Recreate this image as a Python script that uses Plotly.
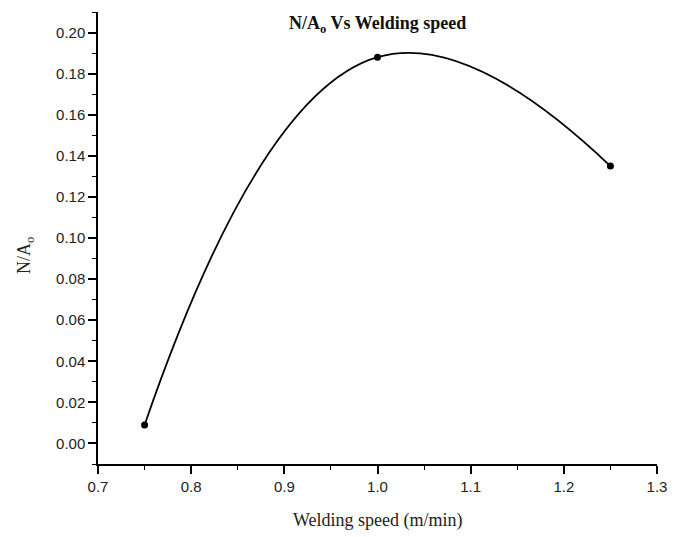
import plotly.graph_objects as go

welding_speed = [0.75, 1.0, 1.25]
n_over_ao = [0.009, 0.188, 0.135]

x_tick_vals = [0.7, 0.8, 0.9, 1.0, 1.1, 1.2, 1.3]
x_tick_text = ["0.7", "0.8", "0.9", "1.0", "1.1", "1.2", "1.3"]
y_tick_vals = [0.00, 0.02, 0.04, 0.06, 0.08, 0.10, 0.12, 0.14, 0.16, 0.18, 0.20]
y_tick_text = ["0.00", "0.02", "0.04", "0.06", "0.08", "0.10", "0.12", "0.14", "0.16", "0.18", "0.20"]

fig = go.Figure()
fig.add_trace(go.Scatter(
    x=welding_speed, y=n_over_ao,
    mode="lines+markers",
    line=dict(color="black", width=1.8, shape="spline", smoothing=1.3),
    marker=dict(color="black", size=7),
    showlegend=False,
))

tickfont = dict(family="Liberation Sans, Arial, sans-serif", size=15, color="#222")
titlefont = dict(family="Liberation Serif, Times New Roman, serif", size=18, color="#222")

# page body has an 8px margin, so the figure is placed 8px in from the window edge
W, H = 682, 529
L, R, T, B = 90, 33, 4, 73
PW, PH = W - L - R, H - T - B

fig.update_layout(
    width=W, height=H,
    margin=dict(l=L, r=R, t=T, b=B),
    paper_bgcolor="white", plot_bgcolor="white",
    xaxis=dict(
        range=[0.7, 1.3], tickvals=x_tick_vals, ticktext=x_tick_text,
        showgrid=False, zeroline=False,
        showline=True, linecolor="black", linewidth=1.5,
        ticks="outside", ticklen=8, tickwidth=1.5, tickcolor="black",
        tickfont=tickfont,
        minor=dict(dtick=0.05, tick0=0.7, ticks="outside", ticklen=4, tickwidth=1.2, tickcolor="black", showgrid=False),
    ),
    yaxis=dict(
        range=[-0.01, 0.21], tickvals=y_tick_vals, ticktext=y_tick_text,
        showgrid=False, zeroline=False,
        showline=True, linecolor="black", linewidth=1.5,
        ticks="outside", ticklen=8, tickwidth=1.5, tickcolor="black",
        tickfont=tickfont,
        minor=dict(dtick=0.01, tick0=0, ticks="outside", ticklen=4, tickwidth=1.2, tickcolor="black", showgrid=False),
    ),
    annotations=[
        dict(text="<b>N/A<sub>o</sub> Vs Welding speed</b>",
             font=dict(family="Liberation Serif, Times New Roman, serif", size=18, color="#111"),
             showarrow=False, xref="paper", yref="paper", x=0.5, y=1 + 1 / PH,
             xanchor="center", yanchor="top"),
        dict(text="Welding speed (m/min)", font=titlefont, showarrow=False,
             xref="paper", yref="paper", x=0.5, y=-56 / PH,
             xanchor="center", yanchor="middle"),
        dict(text="N/A<sub>o</sub>", font=titlefont, showarrow=False, textangle=-90,
             xref="paper", yref="paper", x=-73 / PW, y=0.46,
             xanchor="center", yanchor="middle"),
    ],
)

fig.write_html("out.html")
